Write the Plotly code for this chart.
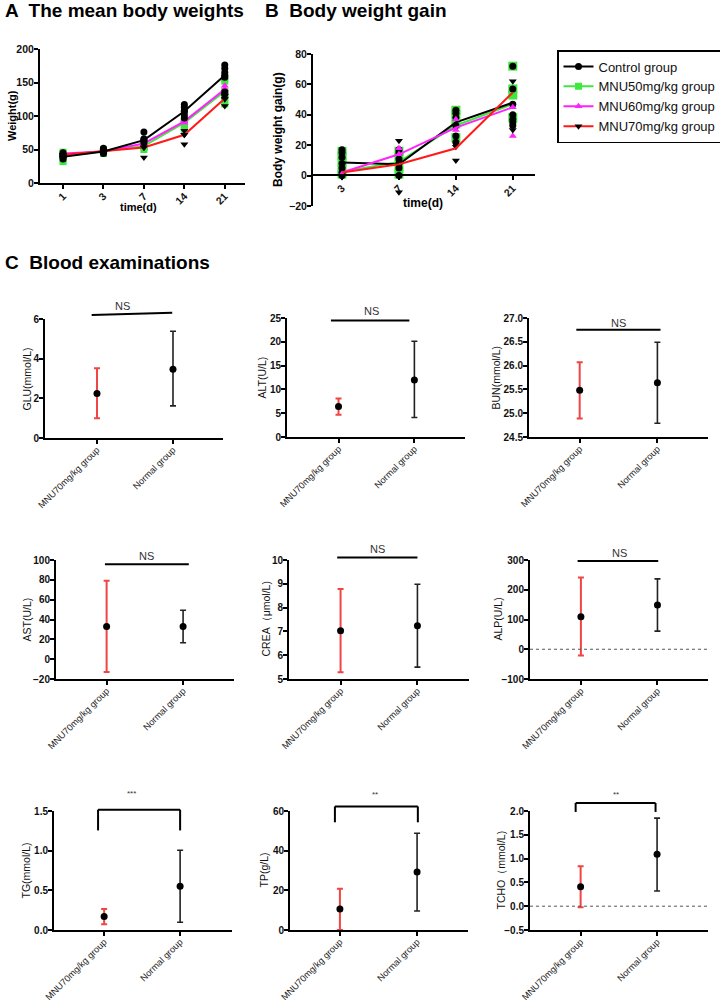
import plotly.graph_objects as go

W, H = 720, 1002
FONT = "Liberation Sans"

# ---------------- Data ----------------
days_A = ["1", "3", "7", "14", "21"]
days_B = ["3", "7", "14", "21"]
group_names = ["Control group", "MNU50mg/kg group", "MNU60mg/kg group", "MNU70mg/kg group"]

# Panel A: mean body weights (g)
mean_ctrl_A = [39, 47, 64, 107, 161]
mean_m50_A = [40, 47, 55, 90, 137]
mean_m60_A = [44, 47, 59, 92, 140]
mean_m70_A = [42, 47, 53, 72, 126]

# Panel A: individual animals
pts_ctrl_A = [[36, 39, 42, 45, 40], [44, 47, 50, 52, 46], [60, 63, 66, 76], [97, 102, 108, 113, 117], [133, 136, 158, 165, 171, 176]]
pts_m50_A = [[32, 35, 38, 44, 46], [44, 46, 48, 50], [50, 53, 55, 58], [80, 84, 88, 92, 95], [118, 122, 128, 134, 152, 156]]
pts_m60_A = [[44, 46], [47], [58, 60], [90, 94], [140, 145]]
pts_m70_A = [[40, 42], [46], [38, 53], [58, 72, 78], [115, 125, 130]]

# Panel B: body weight gain (g)
mean_ctrl_B = [8.6, 7.5, 35, 48]
mean_m50_B = [2.5, 9, 33, 47]
mean_m60_B = [2, 14, 31.6, 45]
mean_m70_B = [2, 7.5, 18, 54.7]

pts_ctrl_B = [[0, 2, 5, 8, 12, 15, 17], [0, 5, 8, 11, 15, 17], [22, 26, 33, 38, 41, 43], [33, 35, 37, 40, 47, 57, 72]]
pts_m50_B = [[1, 4, 9, 13, 16], [1, 6, 12, 16], [25, 34, 40, 43], [38, 53, 57, 72]]
pts_m60_B = [[1], [14, 18], [30, 37], [26, 45]]
pts_m70_B = [[-1], [-11, 23], [10, 19], [30, 62]]

# Panel C: blood examinations
blood_groups = ["MNU70mg/kg group", "Normal group"]
blood_names = ["GLU(mmol/L)", "ALT(U/L)", "BUN(mmol/L)",
               "AST(U/L)", "CREA（μmol/L)", "ALP(U/L)",
               "TG(mmol/L)", "TP(g/L)", "TCHO（mmol/L)"]
mnu_mean = [2.25, 6.4, 25.48, 33, 7.03, 109, 0.17, 10.6, 0.41]
mnu_low = [1.0, 4.7, 24.89, -13, 5.28, -20.7, 0.072, 0.0, -0.02]
mnu_high = [3.52, 8.1, 26.07, 79.2, 8.78, 240.8, 0.266, 20.8, 0.84]
norm_mean = [3.47, 12.0, 25.64, 33, 7.24, 149, 0.553, 29.2, 1.09]
norm_low = [1.62, 4.1, 24.79, 16.5, 5.5, 61, 0.097, 9.6, 0.32]
norm_high = [5.38, 20.1, 26.49, 49.4, 8.98, 236.4, 1.005, 48.8, 1.85]
sig_labels = ["NS", "NS", "NS", "NS", "NS", "NS", "***", "**", "**"]

# ---------------- Styling / layout ----------------
BLACK = "#000000"
GREEN = "#3ee83e"
MAGENTA = "#ff22ff"
RED = "#ff1a1a"
ERR_RED = "#f04545"

y_ranges = [[0, 6], [0, 25], [24.5, 27.0], [-20, 100], [5, 10], [-100, 300], [0, 1.5], [0, 60], [-0.5, 2.0]]
y_dticks = [2, 5, 0.5, 20, 1, 100, 0.5, 20, 0.5]
y_fmts = ["", "", ".1f", "", "", "", ".1f", "", ".1f"]
# pixel boxes (left, top, right, bottom)
boxes = [(45, 319, 223, 438), (287, 318, 465, 437), (529, 318, 708, 437),
         (56, 560, 234, 679), (289, 560, 469, 679), (530, 560, 708, 679),
         (54, 811, 232, 930), (290, 811, 468, 930), (530, 811, 708, 930)]
x_ranges = [[-0.684, 1.658], [-0.679, 1.667], [-0.652, 1.651],
            [-0.662, 1.666], [-0.671, 1.671], [-0.665, 1.66],
            [-0.66, 1.683], [-0.647, 1.66], [-0.662, 1.666]]
ytitle_x = [26, 262, 496, 26, 265, 497, 26, 264, 501]
# significance lines: x0, x1 (category units), y-left, y-right, leg bottom (None = no legs), text x, text y
sig_geom = [(-0.07, 0.99, 6.2, 6.32, None, 0.33, 6.67),
            (-0.1, 0.934, 24.5, 24.5, None, 0.44, 26.4),
            (-0.043, 1.04, 26.755, 26.755, None, 0.5, 26.9),
            (-0.022, 1.075, 95.6, 95.6, None, 0.52, 104.4),
            (-0.044, 1.0, 10.1, 10.1, None, 0.48, 10.46),
            (-0.043, 1.01, 296.6, 296.6, None, 0.5, 324.6),
            (-0.08, 1.0, 1.517, 1.517, 1.255, 0.36, 1.72),
            (-0.065, 1.01, 62.3, 62.3, 54.3, 0.46, 68.4),
            (-0.065, 0.98, 2.168, 2.168, 1.98, 0.46, 2.35)]


def dx(l, r):
    return [l / W, r / W]


def dy(t, b):
    return [1 - b / H, 1 - t / H]


def px_x(p):
    return p / W


def px_y(p):
    return 1 - p / H


def ann(text, x, y, font, xref="paper", yref="paper", angle=0, xanchor="center"):
    return dict(text=text, x=x, y=y, xref=xref, yref=yref, textangle=angle,
                xanchor=xanchor, yanchor="middle", showarrow=False, font=font)


fig = go.Figure()

tickfont = dict(family=FONT, size=10.5, color="#111", weight="bold")
axis_common = dict(showline=True, linecolor=BLACK, linewidth=2, ticks="outside",
                   tickcolor=BLACK, tickwidth=2, ticklen=4, showgrid=False,
                   zeroline=False, tickfont=tickfont, automargin=False)

# ---------- Panel A ----------
groupsA = [
    (pts_m50_A, mean_m50_A, GREEN, GREEN, "square", group_names[1]),
    (pts_m60_A, mean_m60_A, MAGENTA, MAGENTA, "triangle-up", group_names[2]),
    (pts_m70_A, mean_m70_A, RED, BLACK, "triangle-down", group_names[3]),
    (pts_ctrl_A, mean_ctrl_A, BLACK, BLACK, "circle", group_names[0]),
]
legend_rank = {group_names[0]: 1, group_names[1]: 2, group_names[2]: 3, group_names[3]: 4}
for pts, means, lc, mc, sym, name in groupsA:
    xs, ys = [], []
    for d, vals in zip(days_A, pts):
        xs += [d] * len(vals)
        ys += vals
    fig.add_trace(go.Scatter(x=xs, y=ys, mode="markers", xaxis="x", yaxis="y",
                             marker=dict(symbol=sym, size=7, color=mc), showlegend=False,
                             hoverinfo="skip"))
    fig.add_trace(go.Scatter(x=days_A, y=means, mode="lines+markers", xaxis="x", yaxis="y",
                             line=dict(color=lc, width=2),
                             marker=dict(symbol=sym, size=7, color=mc),
                             name=name, legendrank=legend_rank[name], showlegend=True))

# ---------- Panel B ----------
groupsB = [
    (pts_m50_B, mean_m50_B, GREEN, GREEN, "square"),
    (pts_ctrl_B, mean_ctrl_B, BLACK, BLACK, "circle"),
    (pts_m60_B, mean_m60_B, MAGENTA, MAGENTA, "triangle-up"),
    (pts_m70_B, mean_m70_B, RED, BLACK, "triangle-down"),
]
for pts, means, lc, mc, sym in groupsB:
    xs, ys = [], []
    for d, vals in zip(days_B, pts):
        xs += [d] * len(vals)
        ys += vals
    msize = 9 if sym == "square" else 7
    fig.add_trace(go.Scatter(x=xs, y=ys, mode="markers", xaxis="x2", yaxis="y2",
                             marker=dict(symbol=sym, size=msize, color=mc), showlegend=False,
                             hoverinfo="skip"))
    fig.add_trace(go.Scatter(x=days_B, y=means, mode="lines", xaxis="x2", yaxis="y2",
                             line=dict(color=lc, width=2), showlegend=False))

layout = dict(
    width=W, height=H, margin=dict(l=0, r=0, t=0, b=0, autoexpand=False),
    paper_bgcolor="white", plot_bgcolor="white",
    font=dict(family=FONT, color="#111"),
    showlegend=True,
    legend=dict(x=px_x(557), y=px_y(50), xanchor="left", yanchor="top",
                bordercolor=BLACK, borderwidth=1.5, bgcolor="white",
                font=dict(family=FONT, size=13, color="#111"),
                itemwidth=30, tracegroupgap=0),
    xaxis=dict(axis_common, domain=dx(40, 245), anchor="y", type="category",
               range=[-0.57, 4.5], tickangle=-45, ticklabelstandoff=-3),
    yaxis=dict(axis_common, domain=dy(49, 183), anchor="x", range=[0, 200], dtick=50,
               ticklabelstandoff=-2),
    xaxis2=dict(axis_common, domain=dx(313, 535), anchor="free", position=px_y(175),
                type="category", range=[-0.51, 3.39], tickangle=-45, ticklabelstandoff=-2),
    yaxis2=dict(axis_common, domain=dy(54, 206), anchor="x2", range=[-20, 80], dtick=20,
                ticklabelstandoff=-2),
)

annotations = []
shapes = []

# Section titles
title_font = dict(family=FONT, size=19, color=BLACK, weight="bold")
annotations.append(ann("A  The mean body weights", px_x(3), px_y(11), title_font, xanchor="left"))
annotations.append(ann("B  Body weight gain", px_x(263), px_y(11), title_font, xanchor="left"))
annotations.append(ann("C  Blood examinations", px_x(3), px_y(262), title_font, xanchor="left"))

atitle = dict(family=FONT, size=11, color=BLACK, weight="bold")
annotations.append(ann("Weight(g)", px_x(12), px_y(116), atitle, angle=-90))
annotations.append(ann("time(d)", px_x(138), px_y(207), atitle))
annotations.append(ann("Body weight gain(g)", px_x(278), px_y(130), dict(atitle, size=12), angle=-90))
annotations.append(ann("time(d)", px_x(423), px_y(203), dict(atitle, size=12)))

star_font = dict(family=FONT, size=8, color="#333")
annotations.append(ann("****", "14", 40, star_font, xref="x", yref="y"))
annotations.append(ann("****", "21", 98, star_font, xref="x", yref="y"))
annotations.append(ann("*", "14", 4, star_font, xref="x2", yref="y2"))

# ---------- Panel C ----------
for i in range(9):
    n = i + 3
    xa, ya = f"x{n}", f"y{n}"
    l, t, r, b = boxes[i]
    dom_y = dy(t, b)
    rng = y_ranges[i]

    def to_paper(v, dom_y=dom_y, rng=rng):
        return dom_y[0] + (v - rng[0]) / (rng[1] - rng[0]) * (dom_y[1] - dom_y[0])

    fig.add_trace(go.Scatter(
        x=[blood_groups[0]], y=[mnu_mean[i]], mode="markers", xaxis=xa, yaxis=ya,
        marker=dict(symbol="circle", size=7, color=BLACK), showlegend=False,
        error_y=dict(type="data", symmetric=False,
                     array=[mnu_high[i] - mnu_mean[i]], arrayminus=[mnu_mean[i] - mnu_low[i]],
                     color=ERR_RED, thickness=2, width=3)))
    fig.add_trace(go.Scatter(
        x=[blood_groups[1]], y=[norm_mean[i]], mode="markers", xaxis=xa, yaxis=ya,
        marker=dict(symbol="circle", size=7, color=BLACK), showlegend=False,
        error_y=dict(type="data", symmetric=False,
                     array=[norm_high[i] - norm_mean[i]], arrayminus=[norm_mean[i] - norm_low[i]],
                     color="#222", thickness=1.6, width=3)))

    layout[f"xaxis{n}"] = dict(axis_common, domain=dx(l, r), anchor=ya, type="category",
                               categoryorder="array", categoryarray=blood_groups,
                               range=x_ranges[i], tickangle=-45, ticklabelstandoff=-3,
                               tickfont=dict(family=FONT, size=9.2, color="#222"))
    yax = dict(axis_common, domain=dom_y, anchor=xa, range=rng, dtick=y_dticks[i],
               ticklabelstandoff=-2,
               tickfont=dict(family=FONT, size=10, color="#111", weight="bold"))
    if y_fmts[i]:
        yax["tickformat"] = y_fmts[i]
    layout[f"yaxis{n}"] = yax

    annotations.append(ann(blood_names[i], px_x(ytitle_x[i]), (dom_y[0] + dom_y[1]) / 2,
                           dict(family=FONT, size=10.5, color="#111"), angle=-90))

    x0, x1, yl, yr, leg, tx, ty = sig_geom[i]
    shapes.append(dict(type="line", xref=xa, yref="paper", x0=x0, x1=x1,
                       y0=to_paper(yl), y1=to_paper(yr), line=dict(color=BLACK, width=2)))
    if leg is not None:
        for xx in (x0, x1):
            shapes.append(dict(type="line", xref=xa, yref="paper", x0=xx, x1=xx,
                               y0=to_paper(yl), y1=to_paper(leg), line=dict(color=BLACK, width=2)))
    annotations.append(ann(sig_labels[i], tx, to_paper(ty),
                           dict(family=FONT, size=11 if sig_labels[i] == "NS" else 8, color="#333"),
                           xref=xa, yref="paper"))

    if rng[0] < 0 and i in (5, 8):
        shapes.append(dict(type="line", xref=f"{xa} domain", yref=ya, x0=0, x1=1, y0=0, y1=0,
                           line=dict(color="#555", width=1, dash="dot")))

layout["annotations"] = annotations
layout["shapes"] = shapes
fig.update_layout(**layout)

fig.write_html("out.html", config={"displayModeBar": False},
               post_script="document.body.style.margin='0';document.body.style.overflow='hidden';")
